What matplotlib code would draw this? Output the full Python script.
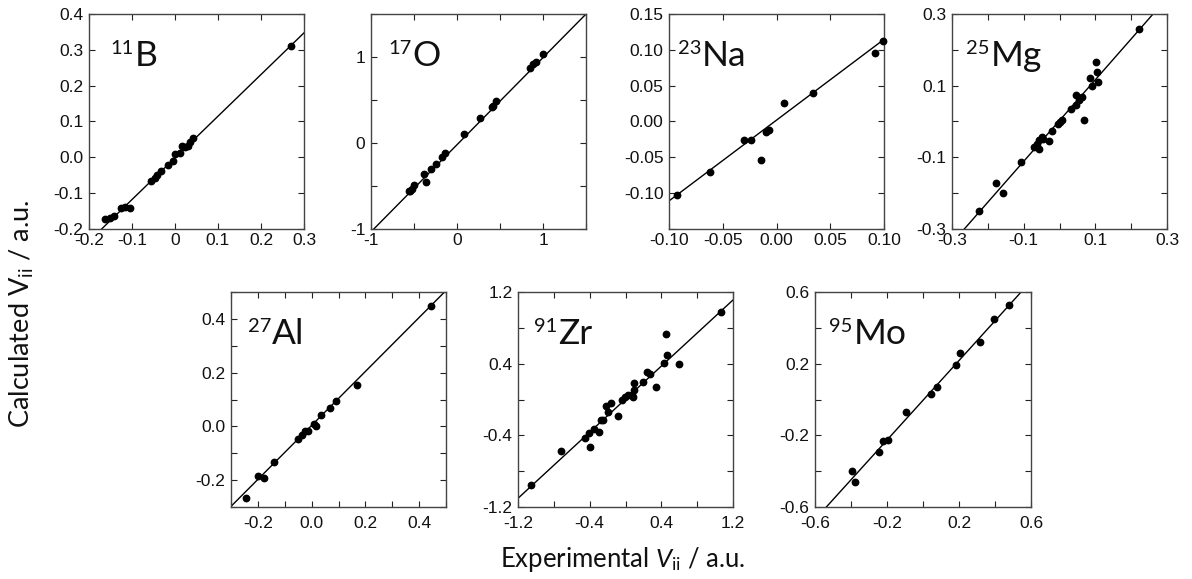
import matplotlib
matplotlib.use('Agg')
import matplotlib.pyplot as plt
import numpy as np

plt.rcParams['font.family'] = 'Liberation Sans'
plt.rcParams['axes.unicode_minus'] = False
plt.rcParams['mathtext.fontset'] = 'custom'
plt.rcParams['mathtext.rm'] = 'Lato'
plt.rcParams['mathtext.it'] = 'Lato:italic'

# experimental vs calculated EFG components (a.u.) for each nucleus
b11_exp = [-0.163, -0.152, -0.142, -0.125, -0.117, -0.105, -0.055, -0.047, -0.042, -0.033,
           -0.016, -0.004, 0.001, 0.011, 0.017, 0.024, 0.031, 0.034, 0.041, 0.269]
b11_calc = [-0.172, -0.170, -0.163, -0.142, -0.139, -0.141, -0.066, -0.058, -0.049, -0.038,
            -0.022, -0.010, 0.009, 0.013, 0.032, 0.030, 0.032, 0.044, 0.055, 0.311]
b11_fit = (1.163, -0.0015)

o17_exp = [-0.562, -0.551, -0.520, -0.497, -0.381, -0.358, -0.300, -0.242, -0.176, -0.137,
           0.084, 0.269, 0.404, 0.424, 0.455, 0.850, 0.889, 0.920, 1.005]
o17_calc = [-0.563, -0.555, -0.536, -0.489, -0.361, -0.454, -0.303, -0.245, -0.164, -0.118,
            0.099, 0.289, 0.416, 0.432, 0.490, 0.876, 0.915, 0.938, 1.039]
o17_fit = (1.013, -0.02)

na23_exp = [-0.0922, -0.0615, -0.0304, -0.0239, -0.0140, -0.0099, -0.0068, 0.0068, 0.0342,
            0.0919, 0.0994]
na23_calc = [-0.102, -0.071, -0.0255, -0.026, -0.054, -0.0149, -0.0116, 0.0265, 0.0395,
             0.0952, 0.1129]
na23_fit = (1.127, 0.0019)

mg25_exp = [-0.224, -0.177, -0.159, -0.108, -0.071, -0.063, -0.056, -0.058, -0.050, -0.045,
            -0.028, -0.021, -0.003, 0.002, 0.0065, 0.032, 0.046, 0.047, 0.055, 0.062, 0.069,
            0.086, 0.090, 0.1025, 0.106, 0.108, 0.221]
mg25_calc = [-0.249, -0.171, -0.200, -0.112, -0.070, -0.062, -0.078, -0.053, -0.044, -0.049,
             -0.054, -0.027, -0.0065, -0.001, 0.003, 0.034, 0.074, 0.046, 0.060, 0.067, 0.003,
             0.120, 0.099, 0.166, 0.139, 0.111, 0.257]
mg25_fit = (1.139, 0.0026)

al27_exp = [-0.245, -0.198, -0.177, -0.141, -0.050, -0.035, -0.023, -0.013, 0.008, 0.018,
            0.035, 0.070, 0.090, 0.170, 0.443]
al27_calc = [-0.265, -0.184, -0.191, -0.134, -0.047, -0.033, -0.018, -0.016, 0.010, 0.003,
             0.041, 0.070, 0.095, 0.153, 0.449]
al27_fit = (1.004, 0.0035)

zr91_exp = [-1.051, -0.724, -0.448, -0.411, -0.400, -0.355, -0.292, -0.273, -0.251, -0.214,
            -0.195, -0.162, -0.080, -0.043, -0.006, 0.028, 0.076, 0.084, 0.099, 0.099, 0.192,
            0.244, 0.270, 0.344, 0.426, 0.456, 0.467, 0.597, 1.070]
zr91_calc = [-0.958, -0.572, -0.431, -0.375, -0.531, -0.327, -0.360, -0.234, -0.227, -0.071,
             -0.137, -0.041, -0.182, -0.004, 0.033, 0.045, 0.052, 0.030, 0.108, 0.189, 0.197,
             0.305, 0.282, 0.137, 0.405, 0.732, 0.498, 0.397, 0.981]
zr91_fit = (0.9225, 0.004)

mo95_exp = [-0.392, -0.379, -0.247, -0.221, -0.193, -0.097, 0.043, 0.080, 0.184, 0.206,
            0.318, 0.396, 0.476]
mo95_calc = [-0.398, -0.463, -0.295, -0.234, -0.228, -0.067, 0.032, 0.072, 0.195, 0.258,
             0.323, 0.450, 0.529]
mo95_fit = (1.109, -0.0045)

# axis ranges, tick positions and tick labels
b11_lim = (-0.2, 0.3, -0.2, 0.4)
b11_xt, b11_xl = [-0.2, -0.1, 0, 0.1, 0.2, 0.3], ['-0.2', '-0.1', '0', '0.1', '0.2', '0.3']
b11_yt, b11_yl = [-0.2, -0.1, 0, 0.1, 0.2, 0.3, 0.4], ['-0.2', '-0.1', '0.0', '0.1', '0.2', '0.3', '0.4']

o17_lim = (-1, 1.5, -1, 1.5)
o17_xt, o17_xl = [-1, -0.5, 0, 0.5, 1, 1.5], ['-1', '', '0', '', '1', '']
o17_yt, o17_yl = o17_xt, o17_xl

na23_lim = (-0.1, 0.1, -0.15, 0.15)
na23_xt, na23_xl = [-0.1, -0.05, 0, 0.05, 0.1], ['-0.10', '-0.05', '0.00', '0.05', '0.10']
na23_yt = [-0.15, -0.1, -0.05, 0, 0.05, 0.1, 0.15]
na23_yl = ['', '-0.10', '-0.05', '0.00', '0.05', '0.10', '0.15']

mg25_lim = (-0.3, 0.3, -0.3, 0.3)
mg25_xt = [-0.3, -0.2, -0.1, 0, 0.1, 0.2, 0.3]
mg25_xl = ['-0.3', '', '-0.1', '', '0.1', '', '0.3']
mg25_yt, mg25_yl = mg25_xt, mg25_xl

al27_lim = (-0.3, 0.5, -0.3, 0.5)
al27_xt = [-0.3, -0.2, -0.1, 0, 0.1, 0.2, 0.3, 0.4, 0.5]
al27_xl = ['', '-0.2', '', '0.0', '', '0.2', '', '0.4', '']
al27_yt, al27_yl = al27_xt, al27_xl

zr91_lim = (-1.2, 1.2, -1.2, 1.2)
zr91_xt = [-1.2, -0.8, -0.4, 0, 0.4, 0.8, 1.2]
zr91_xl = ['-1.2', '', '-0.4', '', '0.4', '', '1.2']
zr91_yt, zr91_yl = zr91_xt, zr91_xl

mo95_lim = (-0.6, 0.6, -0.6, 0.6)
mo95_xt = [-0.6, -0.4, -0.2, 0, 0.2, 0.4, 0.6]
mo95_xl = ['-0.6', '', '-0.2', '', '0.2', '', '0.6']
mo95_yt, mo95_yl = mo95_xt, mo95_xl

panels = [
    (('11', 'B'), b11_exp, b11_calc, b11_fit, b11_lim, b11_xt, b11_xl, b11_yt, b11_yl),
    (('17', 'O'), o17_exp, o17_calc, o17_fit, o17_lim, o17_xt, o17_xl, o17_yt, o17_yl),
    (('23', 'Na'), na23_exp, na23_calc, na23_fit, na23_lim, na23_xt, na23_xl, na23_yt, na23_yl),
    (('25', 'Mg'), mg25_exp, mg25_calc, mg25_fit, mg25_lim, mg25_xt, mg25_xl, mg25_yt, mg25_yl),
    (('27', 'Al'), al27_exp, al27_calc, al27_fit, al27_lim, al27_xt, al27_xl, al27_yt, al27_yl),
    (('91', 'Zr'), zr91_exp, zr91_calc, zr91_fit, zr91_lim, zr91_xt, zr91_xl, zr91_yt, zr91_yl),
    (('95', 'Mo'), mo95_exp, mo95_calc, mo95_fit, mo95_lim, mo95_xt, mo95_xl, mo95_yt, mo95_yl),
]

W, H = 1192, 579
# panel boxes in pixels: left, top, right, bottom
boxes = [(89, 14, 304, 229), (371, 14, 586, 229), (669, 14, 884, 229), (952, 14, 1167, 229),
         (231, 292, 446, 507), (518, 292, 733, 507), (815, 292, 1031, 507)]
# where each nucleus label starts, in axes fraction
label_x = [0.10, 0.08, 0.04, 0.065, 0.077, 0.075, 0.065]
# bottom row has its x tick labels set a little lower
xpad = [3, 3, 3, 3, 6.5, 6.5, 6.5]

fig = plt.figure(figsize=(W / 100, H / 100), dpi=100)
renderer = fig.canvas.get_renderer()

for (iso, xe, yc, fit, lim, xt, xl, yt, yl), (l, t, r, b), lx, px in zip(
        panels, boxes, label_x, xpad):
    ax = fig.add_axes([l / W, 1 - b / H, (r - l) / W, (b - t) / H])
    x0, x1, y0, y1 = lim
    # fitted line, clipped to the frame
    xs = np.linspace(x0, x1, 200)
    ax.plot(xs, fit[0] * xs + fit[1], color='black', lw=1.0, zorder=2)
    ax.plot(xe, yc, 'o', color='black', ms=4.6, zorder=3, clip_on=False)
    ax.set_xlim(x0, x1)
    ax.set_ylim(y0, y1)
    ax.set_xticks(xt)
    ax.set_xticklabels(xl)
    ax.set_yticks(yt)
    ax.set_yticklabels(yl)
    ax.tick_params(direction='in', top=True, right=True, length=4, width=0.8,
                   labelsize=12.5, colors='#222222', labelcolor='#111111')
    ax.tick_params(axis='x', pad=px)
    ax.tick_params(axis='y', pad=4)
    for sp in ax.spines.values():
        sp.set_color('#444444')
        sp.set_linewidth(1.0)

    # nucleus label: mass number as a small superscript, then the element
    mass, elem = iso
    sup = ax.text(lx, 0.815, mass, transform=ax.transAxes, fontsize=14.5, family='Lato',
                  va='baseline', ha='left', color='#111111')
    bb = sup.get_window_extent(renderer)
    xr = ax.transAxes.inverted().transform((bb.x1, bb.y0))[0]
    ax.text(xr + 0.005, 0.76, elem, transform=ax.transAxes, fontsize=25.5, family='Lato',
            va='baseline', ha='left', color='#111111')

fig.text(623 / W, 1 - 560 / H, r'Experimental $V_{\mathrm{ii}}$ / a.u.', family='Lato',
         fontsize=18.5, ha='center', va='center', color='#111111')
fig.text(22 / W, 1 - 314 / H, r'Calculated $\mathrm{V_{ii}}$ / a.u.', family='Lato',
         fontsize=19.5, ha='center', va='center', rotation=90, color='#111111')

fig.savefig('out.png', dpi=100)
